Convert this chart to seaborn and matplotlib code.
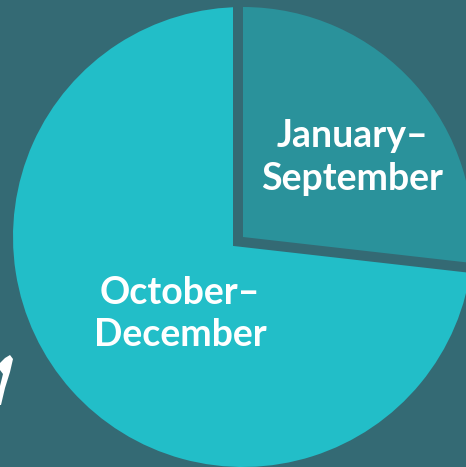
import matplotlib
matplotlib.use("Agg")
import matplotlib.pyplot as plt
import seaborn as sns
from matplotlib.patches import Polygon, Wedge

# data
labels = ["January–\nSeptember", "October–\nDecember"]
shares = [26.8, 73.2]

bg = "#346a74"
colors = ["#2a929b", "#22bec8"]

sns.set_theme(style="white")
plt.rcParams["font.family"] = ["Lato", "DejaVu Sans"]

fig = plt.figure(figsize=(4.66, 4.67), dpi=100, facecolor=bg)
ax = fig.add_axes([0, 0, 1, 1])
ax.set_facecolor(bg)

wedges, _ = ax.pie(shares, colors=colors, startangle=90, counterclock=False,
                   radius=1.0, wedgeprops=dict(linewidth=0))

# the small slice sits on a background-coloured "cut" that bites into the big slice
small, big = wedges
big.set_zorder(1)
small.set_zorder(3)
cut = Wedge(small.center, small.r, small.theta1, small.theta2,
            facecolor=bg, edgecolor=bg, lw=14.4, joinstyle="miter", zorder=2)
ax.add_patch(cut)

# labels placed inside each wedge
text_pos = [(0.474, 0.345), (-0.274, -0.335)]
for lab, (x, y) in zip(labels, text_pos):
    ax.text(x, y, lab, ha="center", va="center", color="white",
            fontsize=27, fontweight="bold", linespacing=1.3, zorder=5)

# pie centre at pixel (243, 237), radius 230 px
ax.set_xlim(-243 / 230, (466 - 243) / 230)
ax.set_ylim(-(467 - 237) / 230, 237 / 230)
ax.set_aspect("auto")
ax.axis("off")

# white brush stroke peeking in at the lower left
stroke = [(10, 355), (13, 359), (10, 372), (5, 388), (1, 405), (0, 405),
          (0, 386), (3, 374), (0, 370), (0, 363), (5, 358)]
ax.add_patch(Polygon([(px / 466, 1 - py / 467) for px, py in stroke],
                     closed=True, transform=ax.transAxes, color="white",
                     lw=0, zorder=6))

fig.savefig("out.png", dpi=100, facecolor=bg)
